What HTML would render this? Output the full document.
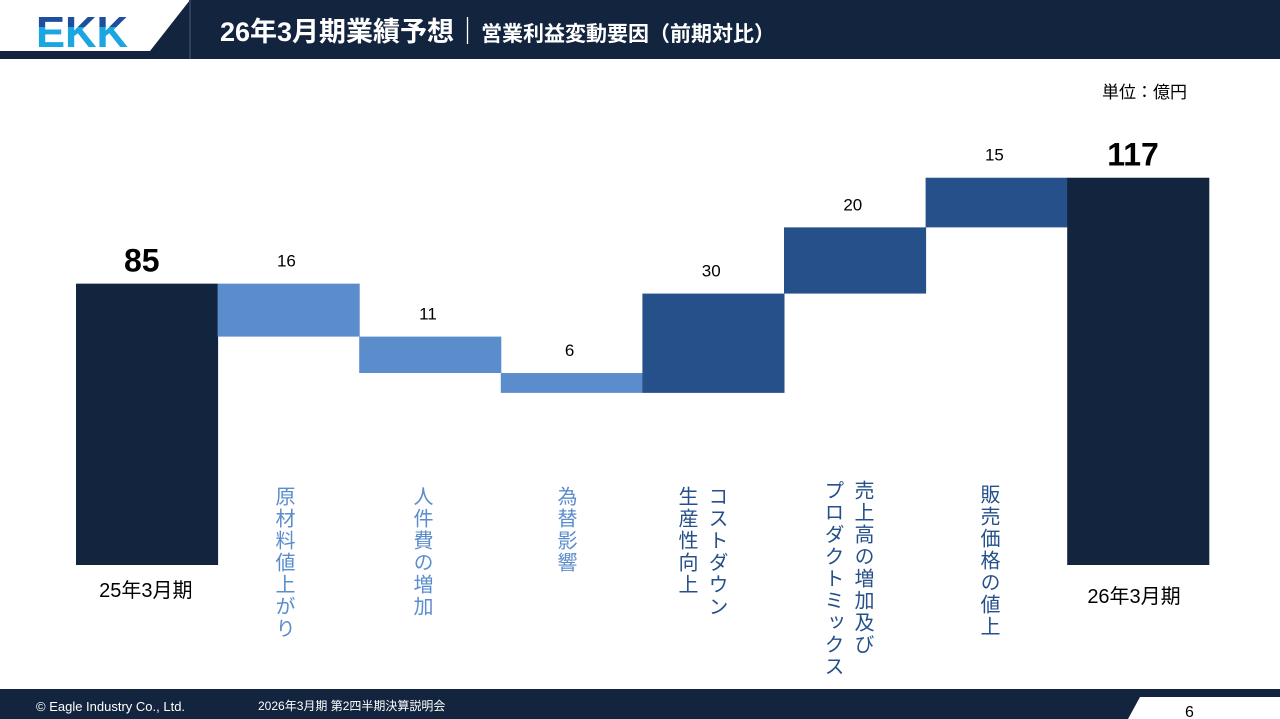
<!DOCTYPE html>
<html><head><meta charset="utf-8"><style>
body{margin:0;width:1280px;height:719px;overflow:hidden;background:#fff;font-family:"Liberation Sans","Noto Sans CJK JP",sans-serif;position:relative}
.abs{position:absolute}
.vl{position:absolute;writing-mode:vertical-rl;font-size:20px;letter-spacing:2px;line-height:30px}
</style></head><body>
<svg class="abs" style="left:0;top:0" width="1280" height="60">
<defs><clipPath id="top"><rect x="0" y="0" width="200" height="27"/></clipPath><clipPath id="bot"><rect x="0" y="27" width="200" height="40"/></clipPath></defs>
<rect x="0" y="0" width="1280" height="59" fill="#13243f"/>
<polygon points="0,0 190,0 150,51 0,51" fill="#fff"/>
<line x1="190" y1="0" x2="190" y2="59" stroke="#2d3f5c" stroke-width="2"/>
<g>
<text x="36" y="47" font-size="44" font-weight="bold" font-family="Liberation Sans" fill="#1aa6e0" textLength="92" lengthAdjust="spacingAndGlyphs" clip-path="url(#bot)">EKK</text>
<text x="36" y="47" font-size="44" font-weight="bold" font-family="Liberation Sans" fill="#1d4f9c" textLength="92" lengthAdjust="spacingAndGlyphs" clip-path="url(#top)">EKK</text>
</g>
<text x="220" y="41" font-size="27" font-weight="bold" fill="#fff">26年3月期業績予想｜<tspan font-size="21">営業利益変動要因（前期対比）</tspan></text>
</svg>
<div class="abs" style="left:1102px;top:78px;font-size:17px">単位：億円</div>
<svg id="chart" class="abs" style="left:0;top:0" width="1280" height="689"></svg>
<div class="vl" style="left:268px;top:486px;color:#5b8ccc">原材料値上がり</div>
<div class="vl" style="left:406px;top:486px;color:#5b8ccc">人件費の増加</div>
<div class="vl" style="left:550px;top:486px;color:#5b8ccc">為替影響</div>
<div class="vl" style="left:671px;top:486px;color:#26508a">コストダウン<br>生産性向上</div>
<div class="vl" style="left:817px;top:480px;color:#26508a">売上高の増加及び<br>プロダクトミックス</div>
<div class="vl" style="left:973px;top:484px;color:#26508a">販売価格の値上</div>
<svg class="abs" style="left:0;top:689px" width="1280" height="30">
<rect width="1280" height="30" fill="#13243f"/>
<polygon points="1140,8 1280,8 1280,30 1128,30" fill="#fff"/>
<text x="36" y="22" font-size="13" fill="#fff">© Eagle Industry Co., Ltd.</text>
<text x="258" y="21" font-size="12" fill="#fff">2026年3月期 第2四半期決算説明会</text>
<text x="1185" y="28" font-size="16" fill="#000">6</text>
</svg>
<script>
const categories=["25年3月期","原材料値上がり","人件費の増加","為替影響","コストダウン生産性向上","売上高の増加及びプロダクトミックス","販売価格の値上","26年3月期"];
const deltas=[85,-16,-11,-6,30,20,15,117];
const valueLabels=["85","16","11","6","30","20","15","117"];
const svg=document.getElementById('chart');const NS='http://www.w3.org/2000/svg';
const y=v=>565-v*3.31;const x0=76,bw=141.6;
let cum=0;
deltas.forEach((d,i)=>{
 let top,bot,fill;
 if(i==0||i==deltas.length-1){top=y(d);bot=y(0);fill='#13243f';cum=d;}
 else{const n=cum+d;top=y(Math.max(cum,n));bot=y(Math.min(cum,n));fill=d<0?'#5b8ccc':'#26508a';cum=n;}
 const r=document.createElementNS(NS,'rect');
 
 
 r.setAttribute('x',x0+i*bw);r.setAttribute('y',top);r.setAttribute('width',bw+0.5);r.setAttribute('height',bot-top);r.setAttribute('fill',fill);svg.appendChild(r);
 const t=document.createElementNS(NS,'text');
 
 
 const big=(i==0||i==deltas.length-1);
 t.setAttribute('x',x0+i*bw+bw/2-(big?5:2));t.setAttribute('y',top-(big?12:17));t.setAttribute('text-anchor','middle');
 t.setAttribute('font-size',big?32:17);if(big)t.setAttribute('font-weight','bold');
 t.textContent=valueLabels[i];svg.appendChild(t);
 if(big){const c=document.createElementNS(NS,'text');
 
 
 c.setAttribute('x',x0+i*bw+bw/2-(i==0?1:4));c.setAttribute('y',i==0?597:603);c.setAttribute('text-anchor','middle');c.setAttribute('font-size',20);c.textContent=categories[i];svg.appendChild(c);}
});
</script>
</body></html>
